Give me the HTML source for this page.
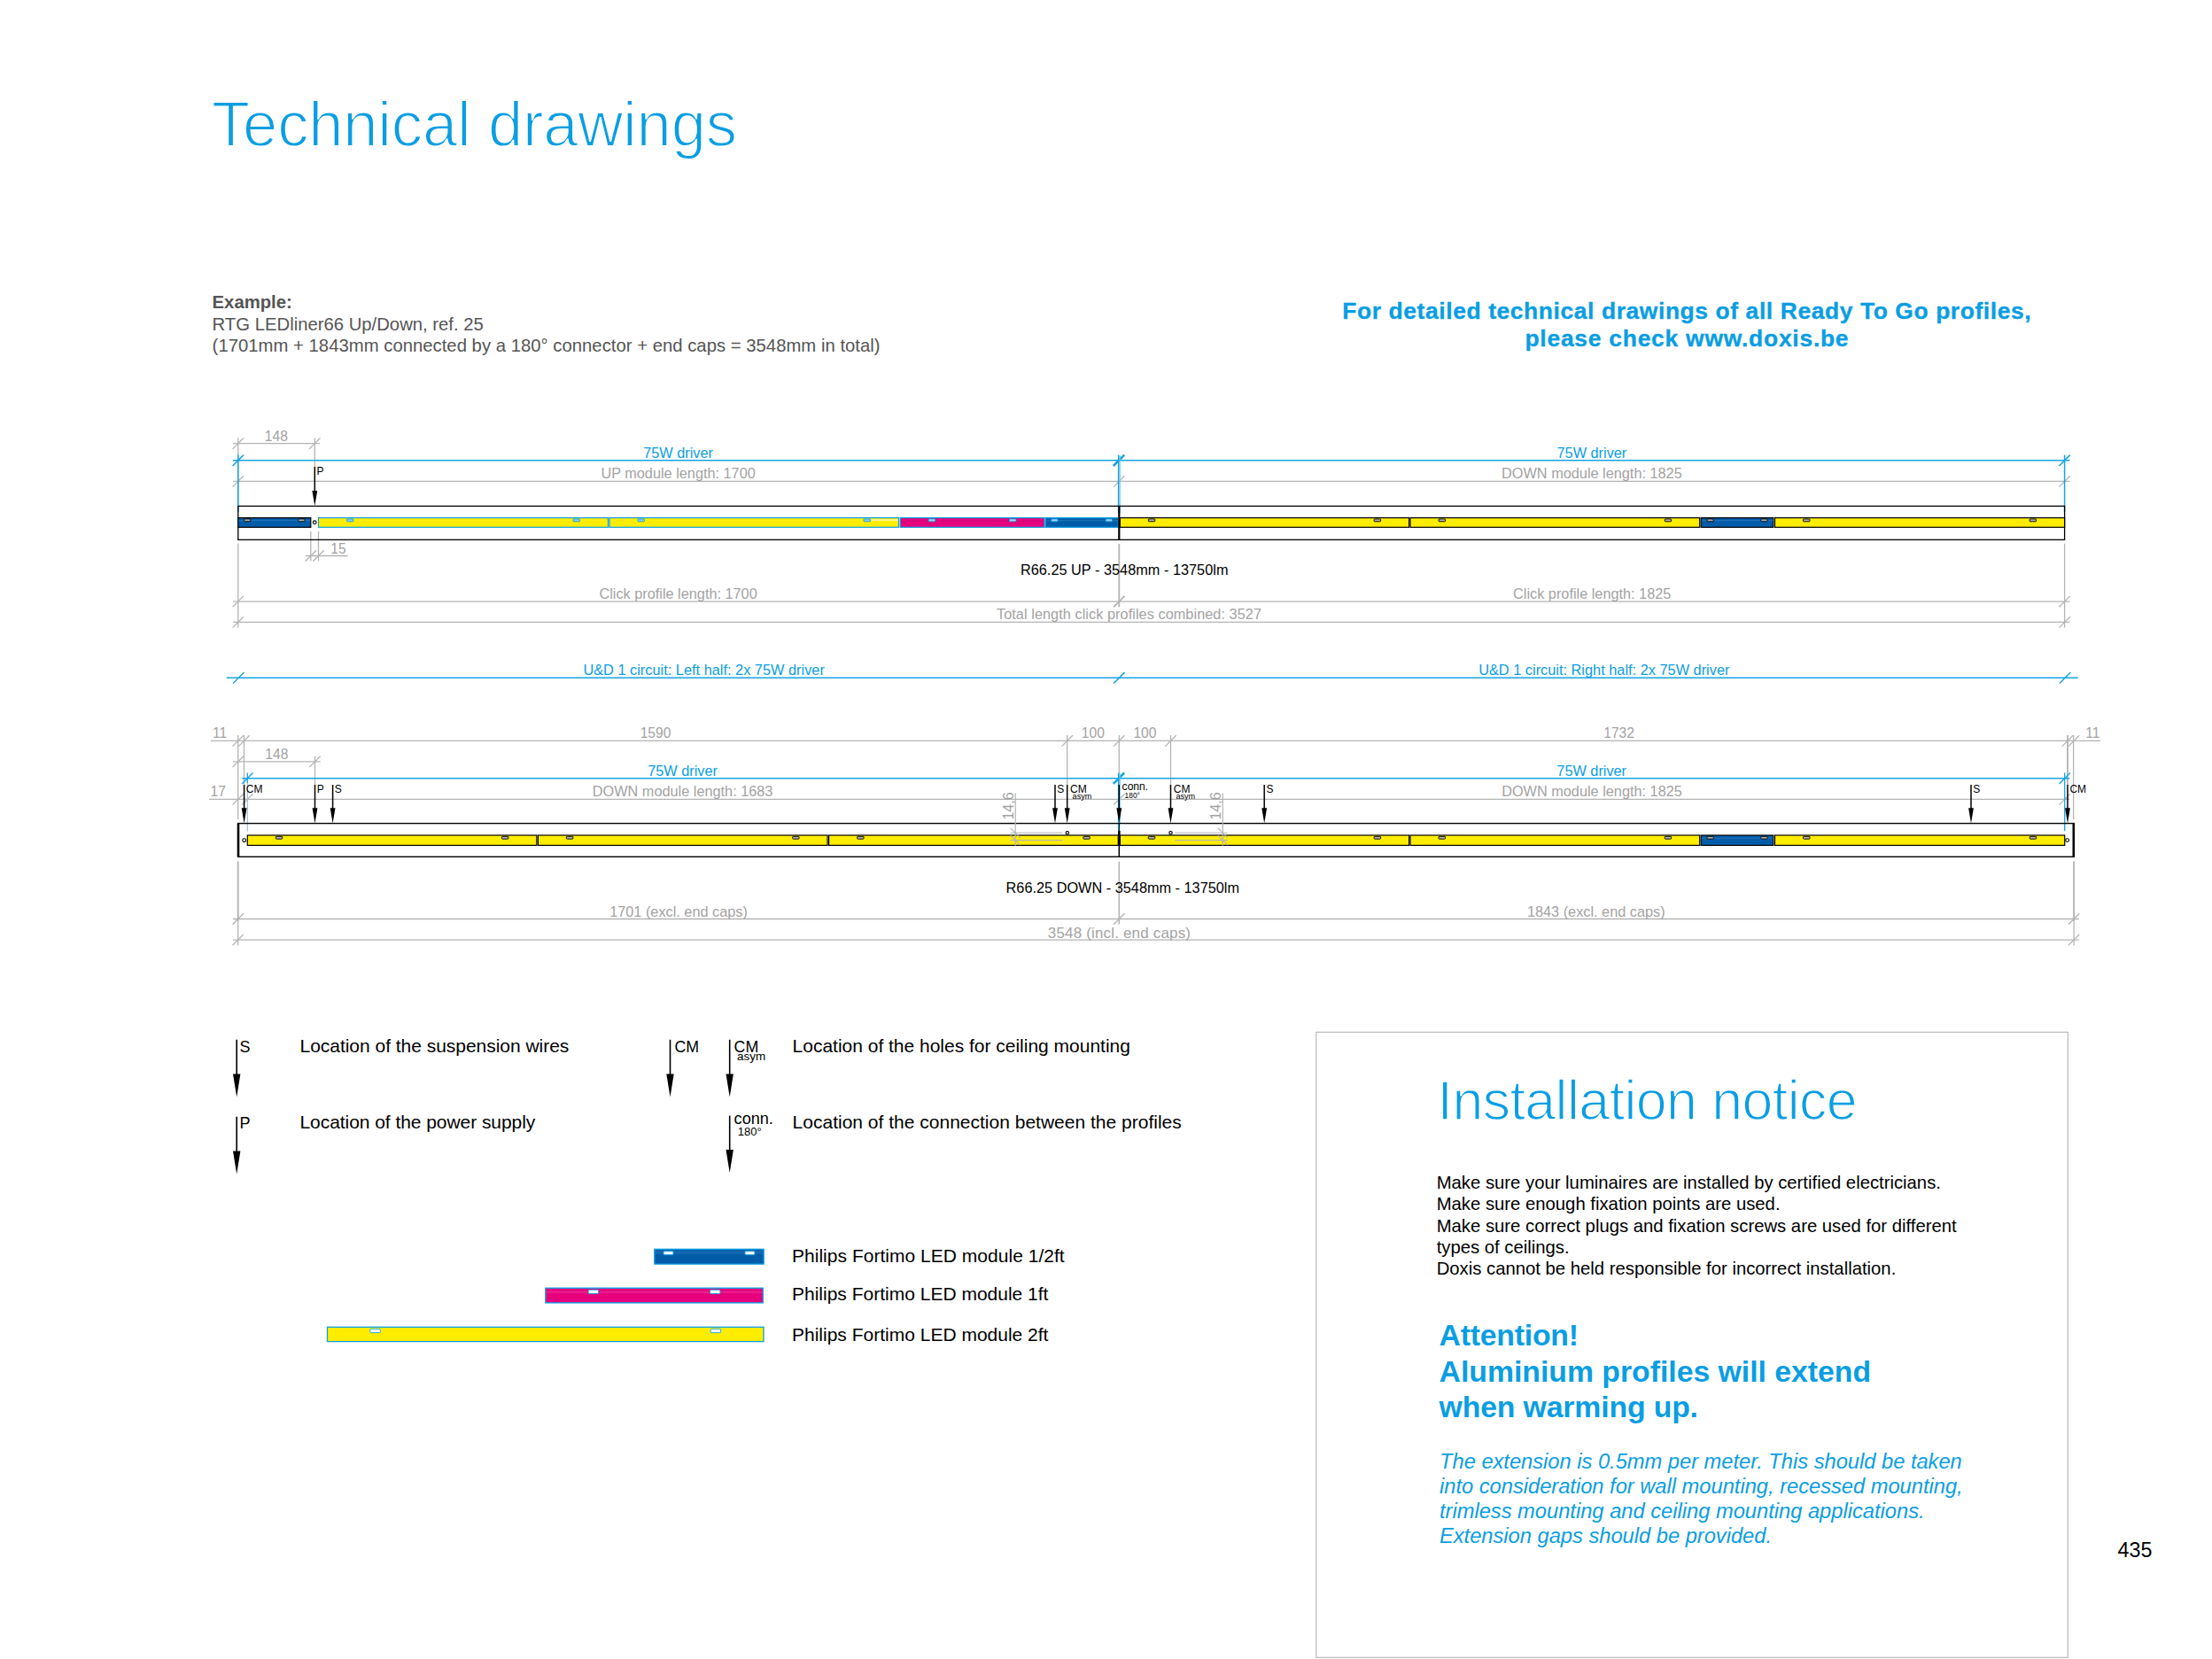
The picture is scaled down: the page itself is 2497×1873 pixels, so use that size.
<!DOCTYPE html>
<html lang="en"><head><meta charset="utf-8"><title>Technical drawings</title>
<style>
html,body{margin:0;padding:0;background:#fff;}
body{width:2497px;height:1873px;overflow:hidden;}
svg{display:block;font-family:"Liberation Sans",sans-serif;}
svg text{white-space:pre;}
.hv{stroke:#0a9ee3;stroke-width:0.35px;}
.lt{stroke:#fff;stroke-width:1.8px;paint-order:fill stroke;}
.lt2{stroke:#fff;stroke-width:1.5px;paint-order:fill stroke;}
</style></head><body>
<svg width="2497" height="1873" viewBox="0 0 2497 1873">
<line x1="263" y1="500.7" x2="361" y2="500.7" stroke="#b4b4b4" stroke-width="1.3"/>
<line x1="262.6" y1="506.9" x2="275" y2="494.5" stroke="#b4b4b4" stroke-width="1.3"/>
<line x1="349.1" y1="506.9" x2="361.5" y2="494.5" stroke="#b4b4b4" stroke-width="1.3"/>
<line x1="268.8" y1="494.5" x2="268.8" y2="571" stroke="#b4b4b4" stroke-width="1.3"/>
<line x1="355.3" y1="494.5" x2="355.3" y2="527" stroke="#b4b4b4" stroke-width="1.3"/>
<line x1="263" y1="543.4" x2="2336.5" y2="543.4" stroke="#b4b4b4" stroke-width="1.3"/>
<line x1="262.6" y1="549.6" x2="275" y2="537.2" stroke="#b4b4b4" stroke-width="1.3"/>
<line x1="1257.1" y1="549.6" x2="1269.5" y2="537.2" stroke="#b4b4b4" stroke-width="1.3"/>
<line x1="2324.4" y1="549.6" x2="2336.8" y2="537.2" stroke="#b4b4b4" stroke-width="1.3"/>
<line x1="263" y1="519.8" x2="2336.5" y2="519.8" stroke="#17a3e3" stroke-width="1.5"/>
<line x1="262.6" y1="526" x2="275" y2="513.6" stroke="#17a3e3" stroke-width="1.5"/>
<line x1="1256.8" y1="526" x2="1269.2" y2="513.6" stroke="#17a3e3" stroke-width="2.5"/>
<line x1="2324.4" y1="526" x2="2336.8" y2="513.6" stroke="#17a3e3" stroke-width="1.5"/>
<line x1="268.8" y1="513.6" x2="268.8" y2="578" stroke="#17a3e3" stroke-width="1.5"/>
<line x1="1262.7" y1="513.6" x2="1262.7" y2="579" stroke="#17a3e3" stroke-width="1.6"/>
<line x1="1264.1" y1="514.5" x2="1264.1" y2="579" stroke="#6cc6ef" stroke-width="1.3"/>
<line x1="2330.6" y1="513.6" x2="2330.6" y2="578" stroke="#17a3e3" stroke-width="1.5"/>
<line x1="268.8" y1="613.6" x2="268.8" y2="708.6" stroke="#b4b4b4" stroke-width="1.3"/>
<line x1="1263.3" y1="614" x2="1263.3" y2="685.3" stroke="#b4b4b4" stroke-width="1.8"/>
<line x1="2330.6" y1="613.6" x2="2330.6" y2="708.6" stroke="#b4b4b4" stroke-width="1.3"/>
<line x1="263" y1="679.1" x2="2336.5" y2="679.1" stroke="#b4b4b4" stroke-width="1.3"/>
<line x1="262.6" y1="685.3" x2="275" y2="672.9" stroke="#b4b4b4" stroke-width="1.3"/>
<line x1="1257.1" y1="685.3" x2="1269.5" y2="672.9" stroke="#b4b4b4" stroke-width="1.8"/>
<line x1="2324.4" y1="685.3" x2="2336.8" y2="672.9" stroke="#b4b4b4" stroke-width="1.3"/>
<line x1="263" y1="702.4" x2="2336.5" y2="702.4" stroke="#b4b4b4" stroke-width="1.3"/>
<line x1="262.6" y1="708.6" x2="275" y2="696.2" stroke="#b4b4b4" stroke-width="1.3"/>
<line x1="2324.4" y1="708.6" x2="2336.8" y2="696.2" stroke="#b4b4b4" stroke-width="1.3"/>
<line x1="350.8" y1="600" x2="350.8" y2="633.5" stroke="#b4b4b4" stroke-width="1.3"/>
<line x1="359.5" y1="600" x2="359.5" y2="633.5" stroke="#b4b4b4" stroke-width="1.3"/>
<line x1="345" y1="627.5" x2="392.7" y2="627.5" stroke="#b4b4b4" stroke-width="1.3"/>
<line x1="344.6" y1="633.7" x2="357" y2="621.3" stroke="#b4b4b4" stroke-width="1.3"/>
<line x1="353.3" y1="633.7" x2="365.7" y2="621.3" stroke="#b4b4b4" stroke-width="1.3"/>
<rect x="268.8" y="571.4" width="2061.8" height="38" fill="none" stroke="#000" stroke-width="1.3"/>
<rect x="268.8" y="584.6" width="82" height="10.7" fill="#005ca9" stroke="#000" stroke-width="1.2"/>
<line x1="269.4" y1="587.7" x2="350.2" y2="587.7" stroke="#3f86c4" stroke-width="0.6"/>
<rect x="275.6" y="585.95" width="7.2" height="2.85" fill="#b0b0b0" stroke="#000" stroke-width="0.9" rx="0.8"/>
<rect x="336.8" y="585.95" width="7.2" height="2.85" fill="#b0b0b0" stroke="#000" stroke-width="0.9" rx="0.8"/>
<rect x="359.5" y="584.6" width="327" height="10.7" fill="#ffed00" stroke="#0d9fe3" stroke-width="1.2"/>
<rect x="391.5" y="585.95" width="7.5" height="2.85" fill="#8fd0f0" stroke="#0d9fe3" stroke-width="0.9" rx="0.8"/>
<rect x="647" y="585.95" width="7.5" height="2.85" fill="#8fd0f0" stroke="#0d9fe3" stroke-width="0.9" rx="0.8"/>
<rect x="688" y="584.6" width="326.5" height="10.7" fill="#ffed00" stroke="#0d9fe3" stroke-width="1.2"/>
<rect x="720" y="585.95" width="7.5" height="2.85" fill="#8fd0f0" stroke="#0d9fe3" stroke-width="0.9" rx="0.8"/>
<rect x="975" y="585.95" width="7.5" height="2.85" fill="#8fd0f0" stroke="#0d9fe3" stroke-width="0.9" rx="0.8"/>
<rect x="983.2" y="586.3" width="30.4" height="1.6" fill="#fff7a6"/>
<rect x="1016.2" y="584.6" width="162.8" height="10.7" fill="#e6007e" stroke="#0d9fe3" stroke-width="1.2"/>
<line x1="1016.8" y1="588.5" x2="1178.4" y2="588.5" stroke="#c20a6d" stroke-width="0.7"/>
<rect x="1048.2" y="585.95" width="7.5" height="2.85" fill="#a9d9f3" stroke="#0d9fe3" stroke-width="0.9" rx="0.8"/>
<rect x="1139.5" y="585.95" width="7.5" height="2.85" fill="#a9d9f3" stroke="#0d9fe3" stroke-width="0.9" rx="0.8"/>
<rect x="1180.1" y="584.6" width="82.1" height="10.7" fill="#005ca9" stroke="#0d9fe3" stroke-width="1.2"/>
<line x1="1180.7" y1="587.7" x2="1261.6" y2="587.7" stroke="#3f86c4" stroke-width="0.6"/>
<rect x="1186.9" y="585.95" width="7.2" height="2.85" fill="#a9d9f3" stroke="#0d9fe3" stroke-width="0.9" rx="0.8"/>
<rect x="1248.2" y="585.95" width="7.2" height="2.85" fill="#a9d9f3" stroke="#0d9fe3" stroke-width="0.9" rx="0.8"/>
<rect x="1264.3" y="584.6" width="326.3" height="10.7" fill="#ffed00" stroke="#000" stroke-width="1.2"/>
<rect x="1296.3" y="585.95" width="7.5" height="2.85" fill="#b0b0b0" stroke="#000" stroke-width="0.9" rx="0.8"/>
<rect x="1551.1" y="585.95" width="7.5" height="2.85" fill="#b0b0b0" stroke="#000" stroke-width="0.9" rx="0.8"/>
<rect x="1592" y="584.6" width="326.7" height="10.7" fill="#ffed00" stroke="#000" stroke-width="1.2"/>
<rect x="1624" y="585.95" width="7.5" height="2.85" fill="#b0b0b0" stroke="#000" stroke-width="0.9" rx="0.8"/>
<rect x="1879.2" y="585.95" width="7.5" height="2.85" fill="#b0b0b0" stroke="#000" stroke-width="0.9" rx="0.8"/>
<rect x="1920.2" y="584.6" width="81.6" height="10.7" fill="#005ca9" stroke="#000" stroke-width="1.2"/>
<line x1="1920.8" y1="587.7" x2="2001.2" y2="587.7" stroke="#3f86c4" stroke-width="0.6"/>
<rect x="1927" y="585.95" width="7.2" height="2.85" fill="#b0b0b0" stroke="#000" stroke-width="0.9" rx="0.8"/>
<rect x="1987.8" y="585.95" width="7.2" height="2.85" fill="#b0b0b0" stroke="#000" stroke-width="0.9" rx="0.8"/>
<rect x="2003.5" y="584.6" width="327.1" height="10.7" fill="#ffed00" stroke="#000" stroke-width="1.2"/>
<rect x="2035.5" y="585.95" width="7.5" height="2.85" fill="#b0b0b0" stroke="#000" stroke-width="0.9" rx="0.8"/>
<rect x="2291.1" y="585.95" width="7.5" height="2.85" fill="#b0b0b0" stroke="#000" stroke-width="0.9" rx="0.8"/>
<line x1="1263.3" y1="571.4" x2="1263.3" y2="609.4" stroke="#000" stroke-width="2.2"/>
<circle cx="355.2" cy="589.8" r="1.9" fill="#fff" stroke="#000" stroke-width="1.1"/>
<line x1="355.3" y1="527" x2="355.3" y2="556" stroke="#000" stroke-width="1.5"/>
<polygon points="352.4,554 358.2,554 355.3,571.2" fill="#000"/>
<text x="357.6" y="535.7" font-size="12" fill="#000">P</text>
<text x="311.8" y="497.7" font-size="15.6" fill="#a3a3a3" text-anchor="middle">148</text>
<text x="382" y="624.5" font-size="15.6" fill="#a3a3a3" text-anchor="middle">15</text>
<text x="765.6" y="516.7" font-size="16.3" fill="#0a9ee3" text-anchor="middle">75W driver</text>
<text x="765.6" y="539.9" font-size="16.3" fill="#a3a3a3" text-anchor="middle">UP module length: 1700</text>
<text x="1796.9" y="516.7" font-size="16.3" fill="#0a9ee3" text-anchor="middle">75W driver</text>
<text x="1796.9" y="539.9" font-size="16.3" fill="#a3a3a3" text-anchor="middle">DOWN module length: 1825</text>
<text x="765.6" y="676.4" font-size="16.3" fill="#a3a3a3" text-anchor="middle">Click profile length: 1700</text>
<text x="1797.2" y="676.4" font-size="16.3" fill="#a3a3a3" text-anchor="middle">Click profile length: 1825</text>
<text x="1274.5" y="699" font-size="16.3" fill="#a3a3a3" text-anchor="middle" textLength="299" lengthAdjust="spacing">Total length click profiles combined: 3527</text>
<text x="1269.2" y="648.7" font-size="16.3" fill="#000" text-anchor="middle" textLength="234.5" lengthAdjust="spacing">R66.25 UP - 3548mm - 13750lm</text>
<line x1="255.8" y1="765.3" x2="2345.7" y2="765.3" stroke="#17a3e3" stroke-width="1.4"/>
<line x1="263.1" y1="771.5" x2="275.5" y2="759.1" stroke="#17a3e3" stroke-width="1.4"/>
<line x1="1257.1" y1="771.5" x2="1269.5" y2="759.1" stroke="#17a3e3" stroke-width="1.6"/>
<line x1="2324.9" y1="771.5" x2="2337.3" y2="759.1" stroke="#17a3e3" stroke-width="1.4"/>
<line x1="238" y1="836.4" x2="2371.3" y2="836.4" stroke="#b4b4b4" stroke-width="1.3"/>
<line x1="262.5" y1="842.6" x2="274.9" y2="830.2" stroke="#b4b4b4" stroke-width="1.3"/>
<line x1="269.3" y1="842.6" x2="281.7" y2="830.2" stroke="#b4b4b4" stroke-width="1.3"/>
<line x1="1198.5" y1="842.6" x2="1210.9" y2="830.2" stroke="#b4b4b4" stroke-width="1.3"/>
<line x1="1257.1" y1="842.6" x2="1269.5" y2="830.2" stroke="#b4b4b4" stroke-width="1.3"/>
<line x1="1315.3" y1="842.6" x2="1327.7" y2="830.2" stroke="#b4b4b4" stroke-width="1.3"/>
<line x1="2327.8" y1="842.6" x2="2340.2" y2="830.2" stroke="#b4b4b4" stroke-width="1.3"/>
<line x1="2334.9" y1="842.6" x2="2347.3" y2="830.2" stroke="#b4b4b4" stroke-width="1.3"/>
<line x1="268.7" y1="830" x2="268.7" y2="925" stroke="#b4b4b4" stroke-width="1.3"/>
<line x1="275.5" y1="830" x2="275.5" y2="886" stroke="#b4b4b4" stroke-width="1.3"/>
<line x1="1204.7" y1="830" x2="1204.7" y2="886" stroke="#b4b4b4" stroke-width="1.3"/>
<line x1="1263.3" y1="830" x2="1263.3" y2="886" stroke="#b4b4b4" stroke-width="1.3"/>
<line x1="1321.5" y1="830" x2="1321.5" y2="886" stroke="#b4b4b4" stroke-width="1.3"/>
<line x1="2334" y1="830" x2="2334" y2="886" stroke="#b4b4b4" stroke-width="1.8"/>
<line x1="2340.6" y1="830" x2="2340.6" y2="925" stroke="#b4b4b4" stroke-width="1.3"/>
<line x1="263" y1="859.9" x2="361.7" y2="859.9" stroke="#b4b4b4" stroke-width="1.3"/>
<line x1="262.5" y1="866.1" x2="274.9" y2="853.7" stroke="#b4b4b4" stroke-width="1.3"/>
<line x1="349.3" y1="866.1" x2="361.7" y2="853.7" stroke="#b4b4b4" stroke-width="1.3"/>
<line x1="355.5" y1="853.8" x2="355.5" y2="886" stroke="#b4b4b4" stroke-width="1.3"/>
<line x1="235.9" y1="902.4" x2="2336.3" y2="902.4" stroke="#b4b4b4" stroke-width="1.3"/>
<line x1="262.5" y1="908.6" x2="274.9" y2="896.2" stroke="#b4b4b4" stroke-width="1.3"/>
<line x1="273.1" y1="908.6" x2="285.5" y2="896.2" stroke="#b4b4b4" stroke-width="1.3"/>
<line x1="1257.1" y1="908.6" x2="1269.5" y2="896.2" stroke="#b4b4b4" stroke-width="1.3"/>
<line x1="2324.5" y1="908.6" x2="2336.9" y2="896.2" stroke="#b4b4b4" stroke-width="1.3"/>
<line x1="273.3" y1="878.7" x2="2336.3" y2="878.7" stroke="#17a3e3" stroke-width="1.4"/>
<line x1="273.1" y1="884.9" x2="285.5" y2="872.5" stroke="#17a3e3" stroke-width="1.4"/>
<line x1="1256.8" y1="884.9" x2="1269.2" y2="872.5" stroke="#17a3e3" stroke-width="2.5"/>
<line x1="2324.5" y1="884.9" x2="2336.9" y2="872.5" stroke="#17a3e3" stroke-width="1.4"/>
<line x1="279.3" y1="872.4" x2="279.3" y2="884" stroke="#17a3e3" stroke-width="1.3"/>
<line x1="279.3" y1="884" x2="279.3" y2="938.6" stroke="#9db9cb" stroke-width="1.1"/>
<line x1="1262.7" y1="872.6" x2="1262.7" y2="938.3" stroke="#17a3e3" stroke-width="1.6"/>
<line x1="1264.1" y1="873.4" x2="1264.1" y2="930" stroke="#6cc6ef" stroke-width="1.3"/>
<line x1="2330.7" y1="872.6" x2="2330.7" y2="938.2" stroke="#17a3e3" stroke-width="1.3"/>
<line x1="268.7" y1="972.4" x2="268.7" y2="1040" stroke="#b4b4b4" stroke-width="1.9"/>
<line x1="268.7" y1="1040" x2="268.7" y2="1067.4" stroke="#b4b4b4" stroke-width="1.2"/>
<line x1="1263.3" y1="972.8" x2="1263.3" y2="1043.6" stroke="#b4b4b4" stroke-width="1.6"/>
<line x1="2341.1" y1="972.4" x2="2341.1" y2="1040" stroke="#b4b4b4" stroke-width="1.9"/>
<line x1="2341.1" y1="1040" x2="2341.1" y2="1067.4" stroke="#b4b4b4" stroke-width="1.2"/>
<line x1="263" y1="1037.5" x2="2346.8" y2="1037.5" stroke="#b4b4b4" stroke-width="1.3"/>
<line x1="262.5" y1="1043.7" x2="274.9" y2="1031.3" stroke="#b4b4b4" stroke-width="1.3"/>
<line x1="1257.1" y1="1043.7" x2="1269.5" y2="1031.3" stroke="#b4b4b4" stroke-width="1.3"/>
<line x1="2334.9" y1="1043.7" x2="2347.3" y2="1031.3" stroke="#b4b4b4" stroke-width="1.3"/>
<line x1="263" y1="1061.1" x2="2346.8" y2="1061.1" stroke="#b4b4b4" stroke-width="1.3"/>
<line x1="262.5" y1="1067.3" x2="274.9" y2="1054.9" stroke="#b4b4b4" stroke-width="1.3"/>
<line x1="2334.9" y1="1067.3" x2="2347.3" y2="1054.9" stroke="#b4b4b4" stroke-width="1.3"/>
<rect x="268.7" y="929.6" width="2072.4" height="37.7" fill="none" stroke="#000" stroke-width="1.4"/>
<line x1="269" y1="929.6" x2="269" y2="967.3" stroke="#000" stroke-width="2.6"/>
<line x1="2340.8" y1="929.6" x2="2340.8" y2="967.3" stroke="#000" stroke-width="2.6"/>
<rect x="279.3" y="943" width="326.6" height="11.4" fill="#ffed00" stroke="#000" stroke-width="1.2"/>
<rect x="311.3" y="944.35" width="7.5" height="2.85" fill="#b0b0b0" stroke="#000" stroke-width="0.9" rx="0.8"/>
<rect x="566.4" y="944.35" width="7.5" height="2.85" fill="#b0b0b0" stroke="#000" stroke-width="0.9" rx="0.8"/>
<rect x="607.4" y="943" width="326.7" height="11.4" fill="#ffed00" stroke="#000" stroke-width="1.2"/>
<rect x="639.4" y="944.35" width="7.5" height="2.85" fill="#b0b0b0" stroke="#000" stroke-width="0.9" rx="0.8"/>
<rect x="894.6" y="944.35" width="7.5" height="2.85" fill="#b0b0b0" stroke="#000" stroke-width="0.9" rx="0.8"/>
<rect x="935.6" y="943" width="326.7" height="11.4" fill="#ffed00" stroke="#000" stroke-width="1.2"/>
<rect x="967.6" y="944.35" width="7.5" height="2.85" fill="#b0b0b0" stroke="#000" stroke-width="0.9" rx="0.8"/>
<rect x="1222.8" y="944.35" width="7.5" height="2.85" fill="#b0b0b0" stroke="#000" stroke-width="0.9" rx="0.8"/>
<rect x="1264.3" y="943" width="326.3" height="11.4" fill="#ffed00" stroke="#000" stroke-width="1.2"/>
<rect x="1296.3" y="944.35" width="7.5" height="2.85" fill="#b0b0b0" stroke="#000" stroke-width="0.9" rx="0.8"/>
<rect x="1551.1" y="944.35" width="7.5" height="2.85" fill="#b0b0b0" stroke="#000" stroke-width="0.9" rx="0.8"/>
<rect x="1592" y="943" width="326.7" height="11.4" fill="#ffed00" stroke="#000" stroke-width="1.2"/>
<rect x="1624" y="944.35" width="7.5" height="2.85" fill="#b0b0b0" stroke="#000" stroke-width="0.9" rx="0.8"/>
<rect x="1879.2" y="944.35" width="7.5" height="2.85" fill="#b0b0b0" stroke="#000" stroke-width="0.9" rx="0.8"/>
<rect x="1920.2" y="943" width="81.6" height="11.4" fill="#005ca9" stroke="#000" stroke-width="1.2"/>
<line x1="1920.8" y1="946.1" x2="2001.2" y2="946.1" stroke="#3f86c4" stroke-width="0.6"/>
<rect x="1927" y="944.35" width="7.2" height="2.85" fill="#b0b0b0" stroke="#000" stroke-width="0.9" rx="0.8"/>
<rect x="1987.8" y="944.35" width="7.2" height="2.85" fill="#b0b0b0" stroke="#000" stroke-width="0.9" rx="0.8"/>
<rect x="2003.5" y="943" width="327.2" height="11.4" fill="#ffed00" stroke="#000" stroke-width="1.2"/>
<rect x="2035.5" y="944.35" width="7.5" height="2.85" fill="#b0b0b0" stroke="#000" stroke-width="0.9" rx="0.8"/>
<rect x="2291.2" y="944.35" width="7.5" height="2.85" fill="#b0b0b0" stroke="#000" stroke-width="0.9" rx="0.8"/>
<line x1="1263.3" y1="929.6" x2="1263.3" y2="967.3" stroke="#000" stroke-width="1.5"/>
<line x1="1263.3" y1="938" x2="1263.3" y2="955" stroke="#000" stroke-width="2.6"/>
<line x1="1262.7" y1="930.4" x2="1262.7" y2="938.3" stroke="#17a3e3" stroke-width="1.0"/>
<line x1="1146.2" y1="895.5" x2="1146.2" y2="954.8" stroke="#b4b4b4" stroke-width="1.2"/>
<line x1="1140.4" y1="940.3" x2="1199.6" y2="940.3" stroke="#b4b4b4" stroke-width="1.1"/>
<line x1="1140.4" y1="948.6" x2="1199.6" y2="948.6" stroke="#b4b4b4" stroke-width="1.1"/>
<line x1="1140.7" y1="934.8" x2="1151.7" y2="945.8" stroke="#b4b4b4" stroke-width="1.1"/>
<line x1="1140.7" y1="943.1" x2="1151.7" y2="954.1" stroke="#b4b4b4" stroke-width="1.1"/>
<line x1="1380.3" y1="895.5" x2="1380.3" y2="954.8" stroke="#b4b4b4" stroke-width="1.2"/>
<line x1="1326.2" y1="940.3" x2="1385.8" y2="940.3" stroke="#b4b4b4" stroke-width="1.1"/>
<line x1="1326.2" y1="948.6" x2="1385.8" y2="948.6" stroke="#b4b4b4" stroke-width="1.1"/>
<line x1="1374.8" y1="934.8" x2="1385.8" y2="945.8" stroke="#b4b4b4" stroke-width="1.1"/>
<line x1="1374.8" y1="943.1" x2="1385.8" y2="954.1" stroke="#b4b4b4" stroke-width="1.1"/>
<circle cx="275.7" cy="948.7" r="1.9" fill="#fff" stroke="#000" stroke-width="1.1"/>
<circle cx="2333.6" cy="948.6" r="1.9" fill="#fff" stroke="#000" stroke-width="1.1"/>
<circle cx="1204.8" cy="940.3" r="1.7" fill="#fff" stroke="#000" stroke-width="1.1"/>
<circle cx="1321.5" cy="940.3" r="1.7" fill="#fff" stroke="#000" stroke-width="1.1"/>
<line x1="275.6" y1="886" x2="275.6" y2="914.2" stroke="#000" stroke-width="1.5"/>
<polygon points="272.7,912.2 278.5,912.2 275.6,929.4" fill="#000"/>
<line x1="355.5" y1="886" x2="355.5" y2="914.2" stroke="#000" stroke-width="1.5"/>
<polygon points="352.6,912.2 358.4,912.2 355.5,929.4" fill="#000"/>
<line x1="375.6" y1="886" x2="375.6" y2="914.2" stroke="#000" stroke-width="1.5"/>
<polygon points="372.7,912.2 378.5,912.2 375.6,929.4" fill="#000"/>
<line x1="1191" y1="886" x2="1191" y2="914.2" stroke="#000" stroke-width="1.5"/>
<polygon points="1188.1,912.2 1193.9,912.2 1191,929.4" fill="#000"/>
<line x1="1204.7" y1="886" x2="1204.7" y2="914.2" stroke="#000" stroke-width="1.5"/>
<polygon points="1201.8,912.2 1207.6,912.2 1204.7,929.4" fill="#000"/>
<line x1="1263.3" y1="886" x2="1263.3" y2="914.2" stroke="#000" stroke-width="1.5"/>
<polygon points="1260.4,912.2 1266.2,912.2 1263.3,929.4" fill="#000"/>
<line x1="1321.5" y1="886" x2="1321.5" y2="914.2" stroke="#000" stroke-width="1.5"/>
<polygon points="1318.6,912.2 1324.4,912.2 1321.5,929.4" fill="#000"/>
<line x1="1427.2" y1="886" x2="1427.2" y2="914.2" stroke="#000" stroke-width="1.5"/>
<polygon points="1424.3,912.2 1430.1,912.2 1427.2,929.4" fill="#000"/>
<line x1="2225" y1="886" x2="2225" y2="914.2" stroke="#000" stroke-width="1.5"/>
<polygon points="2222.1,912.2 2227.9,912.2 2225,929.4" fill="#000"/>
<line x1="2334" y1="886" x2="2334" y2="914.2" stroke="#000" stroke-width="1.5"/>
<polygon points="2331.1,912.2 2336.9,912.2 2334,929.4" fill="#000"/>
<text x="277.8" y="894.7" font-size="12" fill="#000">CM</text>
<text x="357.8" y="894.7" font-size="12" fill="#000">P</text>
<text x="377.8" y="894.7" font-size="12" fill="#000">S</text>
<text x="1193.2" y="894.7" font-size="12" fill="#000">S</text>
<text x="1208" y="894.7" font-size="12" fill="#000">CM</text>
<text x="1210.6" y="901.8" font-size="9.1" fill="#000">asym</text>
<text x="1266.6" y="891.7" font-size="12.1" fill="#000">conn.</text>
<text x="1269.6" y="901" font-size="8.4" fill="#000">180°</text>
<text x="1324.8" y="894.7" font-size="12" fill="#000">CM</text>
<text x="1327.4" y="901.8" font-size="9.1" fill="#000">asym</text>
<text x="1429.4" y="894.7" font-size="12" fill="#000">S</text>
<text x="2227.2" y="894.7" font-size="12" fill="#000">S</text>
<text x="2336.4" y="894.7" font-size="12" fill="#000">CM</text>
<text x="248" y="832.8" font-size="15.6" fill="#a3a3a3" text-anchor="middle">11</text>
<text x="2362.3" y="832.8" font-size="15.6" fill="#a3a3a3" text-anchor="middle">11</text>
<text x="246.2" y="899" font-size="15.6" fill="#a3a3a3" text-anchor="middle">17</text>
<text x="312.3" y="856.9" font-size="15.6" fill="#a3a3a3" text-anchor="middle">148</text>
<text x="740" y="832.9" font-size="15.6" fill="#a3a3a3" text-anchor="middle">1590</text>
<text x="1233.8" y="832.7" font-size="15.6" fill="#a3a3a3" text-anchor="middle">100</text>
<text x="1292.4" y="832.7" font-size="15.6" fill="#a3a3a3" text-anchor="middle">100</text>
<text x="1827.6" y="832.9" font-size="15.6" fill="#a3a3a3" text-anchor="middle">1732</text>
<text x="1144" y="925.6" font-size="16" fill="#a3a3a3" transform="rotate(-90 1144 925.6)">14,6</text>
<text x="1377.9" y="925.6" font-size="16" fill="#a3a3a3" transform="rotate(-90 1377.9 925.6)">14,6</text>
<text x="794.6" y="761.7" font-size="16.3" fill="#0a9ee3" text-anchor="middle" textLength="272.4" lengthAdjust="spacing">U&amp;D 1 circuit: Left half: 2x 75W driver</text>
<text x="1810.8" y="761.7" font-size="16.3" fill="#0a9ee3" text-anchor="middle" textLength="283.2" lengthAdjust="spacing">U&amp;D 1 circuit: Right half: 2x 75W driver</text>
<text x="770.6" y="876" font-size="16.3" fill="#0a9ee3" text-anchor="middle">75W driver</text>
<text x="1796.7" y="876" font-size="16.3" fill="#0a9ee3" text-anchor="middle">75W driver</text>
<text x="770.6" y="899.3" font-size="16.3" fill="#a3a3a3" text-anchor="middle">DOWN module length: 1683</text>
<text x="1797" y="899.3" font-size="16.3" fill="#a3a3a3" text-anchor="middle">DOWN module length: 1825</text>
<text x="766" y="1035" font-size="16.3" fill="#a3a3a3" text-anchor="middle">1701 (excl. end caps)</text>
<text x="1801.8" y="1035" font-size="16.3" fill="#a3a3a3" text-anchor="middle">1843 (excl. end caps)</text>
<text x="1263.4" y="1059" font-size="17" fill="#a3a3a3" text-anchor="middle" textLength="161.2" lengthAdjust="spacing">3548 (incl. end caps)</text>
<text x="1267.3" y="1008" font-size="16.3" fill="#000" text-anchor="middle" textLength="263.5" lengthAdjust="spacing">R66.25 DOWN - 3548mm - 13750lm</text>
<line x1="267.2" y1="1173.8" x2="267.2" y2="1214.4" stroke="#000" stroke-width="1.6"/>
<polygon points="263,1212.4 271.4,1212.4 267.2,1238.4" fill="#000"/>
<line x1="267.2" y1="1260.8" x2="267.2" y2="1301.6" stroke="#000" stroke-width="1.6"/>
<polygon points="263,1299.6 271.4,1299.6 267.2,1325.6" fill="#000"/>
<line x1="756.5" y1="1173.8" x2="756.5" y2="1214.4" stroke="#000" stroke-width="1.6"/>
<polygon points="752.3,1212.4 760.7,1212.4 756.5,1238.4" fill="#000"/>
<line x1="823.7" y1="1173.8" x2="823.7" y2="1214.4" stroke="#000" stroke-width="1.6"/>
<polygon points="819.5,1212.4 827.9,1212.4 823.7,1238.4" fill="#000"/>
<line x1="823.7" y1="1259.6" x2="823.7" y2="1300" stroke="#000" stroke-width="1.6"/>
<polygon points="819.5,1298 827.9,1298 823.7,1324" fill="#000"/>
<text x="270.6" y="1187.6" font-size="18" fill="#000">S</text>
<text x="270.6" y="1273.8" font-size="18" fill="#000">P</text>
<text x="761.4" y="1187.6" font-size="17.8" fill="#000">CM</text>
<text x="828.6" y="1187.6" font-size="17.8" fill="#000">CM</text>
<text x="832" y="1197" font-size="13.5" fill="#000">asym</text>
<text x="828.6" y="1268.8" font-size="18.1" fill="#000">conn.</text>
<text x="832.8" y="1282.4" font-size="13" fill="#000">180°</text>
<text x="338.5" y="1188.3" font-size="21" fill="#000" textLength="303.8" lengthAdjust="spacing">Location of the suspension wires</text>
<text x="338.5" y="1274.3" font-size="21" fill="#000" textLength="265.8" lengthAdjust="spacing">Location of the power supply</text>
<text x="894.6" y="1188.2" font-size="21" fill="#000" textLength="381.3" lengthAdjust="spacing">Location of the holes for ceiling mounting</text>
<text x="894.6" y="1274.3" font-size="21" fill="#000" textLength="439.2" lengthAdjust="spacing">Location of the connection between the profiles</text>
<rect x="738.8" y="1410.3" width="123.4" height="16.8" fill="#005ca9" stroke="#0d9fe3" stroke-width="1.3"/>
<line x1="739.4" y1="1414.99" x2="861.6" y2="1414.99" stroke="#3f86c4" stroke-width="0.6"/>
<rect x="749.08" y="1412.34" width="10.89" height="4.31" fill="#fff" stroke="#0d9fe3" stroke-width="0.9" rx="0.8"/>
<rect x="841.03" y="1412.34" width="10.89" height="4.31" fill="#fff" stroke="#0d9fe3" stroke-width="0.9" rx="0.8"/>
<line x1="739.4" y1="1412.9" x2="861.6" y2="1412.9" stroke="#3f86c4" stroke-width="0.6"/>
<rect x="615.8" y="1454.2" width="245.5" height="16.7" fill="#e6007e" stroke="#0d9fe3" stroke-width="1.3"/>
<line x1="616.4" y1="1458.89" x2="860.7" y2="1458.89" stroke="#f06aa9" stroke-width="0.6"/>
<rect x="664.18" y="1456.24" width="11.34" height="4.31" fill="#fff" stroke="#0d9fe3" stroke-width="0.9" rx="0.8"/>
<rect x="801.58" y="1456.24" width="11.34" height="4.31" fill="#fff" stroke="#0d9fe3" stroke-width="0.9" rx="0.8"/>
<rect x="369.5" y="1498.3" width="492.5" height="16.3" fill="#ffed00" stroke="#0d9fe3" stroke-width="1.3"/>
<rect x="417.88" y="1500.34" width="11.34" height="4.31" fill="#fff" stroke="#0d9fe3" stroke-width="0.9" rx="0.8"/>
<rect x="802.28" y="1500.34" width="11.34" height="4.31" fill="#fff" stroke="#0d9fe3" stroke-width="0.9" rx="0.8"/>
<text x="894" y="1425" font-size="21" fill="#000" textLength="307.7" lengthAdjust="spacing">Philips Fortimo LED module 1/2ft</text>
<text x="894" y="1467.7" font-size="21" fill="#000">Philips Fortimo LED module 1ft</text>
<text x="894" y="1513.7" font-size="21" fill="#000">Philips Fortimo LED module 2ft</text>
<rect x="1485.8" y="1165.3" width="848.5" height="706" fill="none" stroke="#b9b9b9" stroke-width="1.2"/>
<text x="1622.6" y="1264.3" font-size="62.6" fill="#0a9ee3" textLength="474" lengthAdjust="spacing" class="lt2" transform="translate(0 1264.3) scale(1 1.008) translate(0 -1264.3)">Installation notice</text>
<text x="1621.7" y="1341.8" font-size="20.3" fill="#000">Make sure your luminaires are installed by certified electricians.</text>
<text x="1621.7" y="1366.2" font-size="20.3" fill="#000">Make sure enough fixation points are used.</text>
<text x="1621.7" y="1390.6" font-size="20.3" fill="#000">Make sure correct plugs and fixation screws are used for different</text>
<text x="1621.7" y="1414.9" font-size="20.3" fill="#000">types of ceilings.</text>
<text x="1621.7" y="1439.3" font-size="20.3" fill="#000">Doxis cannot be held responsible for incorrect installation.</text>
<text x="1624.6" y="1519.4" font-size="33.75" fill="#0a9ee3" font-weight="bold" textLength="157.4" lengthAdjust="spacing">Attention!</text>
<text x="1624.6" y="1559.6" font-size="33.75" fill="#0a9ee3" font-weight="bold" textLength="487.5" lengthAdjust="spacing">Aluminium profiles will extend</text>
<text x="1624.6" y="1600.3" font-size="33.75" fill="#0a9ee3" font-weight="bold" textLength="292.4" lengthAdjust="spacing">when warming up.</text>
<text x="1625" y="1657.6" font-size="23.7" fill="#0a9ee3" font-style="italic" textLength="589.8" lengthAdjust="spacing">The extension is 0.5mm per meter. This should be taken</text>
<text x="1625" y="1685.8" font-size="23.7" fill="#0a9ee3" font-style="italic" textLength="590.7" lengthAdjust="spacing">into consideration for wall mounting, recessed mounting,</text>
<text x="1625" y="1714" font-size="23.7" fill="#0a9ee3" font-style="italic" textLength="547.6" lengthAdjust="spacing">trimless mounting and ceiling mounting applications.</text>
<text x="1625" y="1742.2" font-size="23.7" fill="#0a9ee3" font-style="italic" textLength="375" lengthAdjust="spacing">Extension gaps should be provided.</text>
<text x="2390.6" y="1757.7" font-size="23.3" fill="#000">435</text>
<text x="239" y="165.3" font-size="70.6" fill="#0a9ee3" textLength="593" lengthAdjust="spacing" class="lt" transform="translate(0 165.3) scale(1 1.012) translate(0 -165.3)">Technical drawings</text>
<text x="239.6" y="348" font-size="20.3" fill="#555" font-weight="bold">Example:</text>
<text x="239.6" y="373.3" font-size="20.3" fill="#555">RTG LEDliner66 Up/Down, ref. 25</text>
<text x="239.6" y="397.4" font-size="20.3" fill="#555" textLength="754" lengthAdjust="spacing">(1701mm + 1843mm connected by a 180° connector + end caps = 3548mm in total)</text>
<text x="1904" y="360.1" font-size="26.4" fill="#0a9ee3" text-anchor="middle" font-weight="bold" textLength="777.3" lengthAdjust="spacing" class="hv">For detailed technical drawings of all Ready To Go profiles,</text>
<text x="1904" y="391" font-size="26.4" fill="#0a9ee3" text-anchor="middle" font-weight="bold" textLength="365.1" lengthAdjust="spacing" class="hv">please check www.doxis.be</text>
</svg>
</body></html>
